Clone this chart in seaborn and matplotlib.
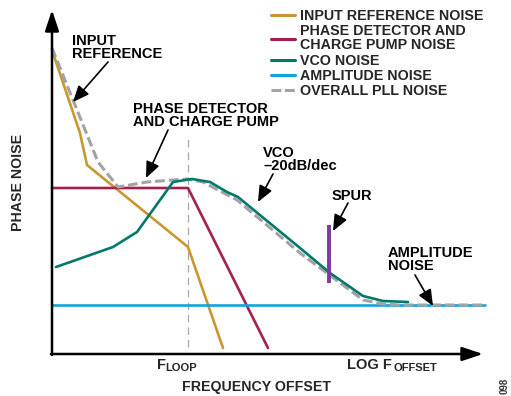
import matplotlib
matplotlib.use("Agg")
import matplotlib.pyplot as plt
import seaborn as sns
from matplotlib.lines import Line2D

sns.set_theme(style="white")
plt.rcParams["font.family"] = ["Liberation Sans", "DejaVu Sans"]
plt.rcParams["font.weight"] = "bold"

# Offset position (log scale, arbitrary units) and noise level (arbitrary units)
ref_x = [0, 28, 35, 136, 171]
ref_y = [304, 221, 189, 107, 6]

pd_x = [0, 136, 216]
pd_y = [166, 166, 6]

vco_x = [4, 61, 85, 121, 140, 158, 175, 186, 248, 278, 311, 331, 356]
vco_y = [87, 107, 122, 172, 175, 172, 162, 157, 106, 81, 58, 53, 52]

amp_x = [0, 433]
amp_y = [49, 49]

pll_x = [0, 21, 46, 66, 95, 121, 135, 151, 185, 248, 311, 331, 348, 433]
pll_y = [306, 254, 192, 167, 172, 174, 175, 172, 154, 101, 54, 50, 49, 49]

f_loop = 136
loop_span = [7, 216]

spur_x = 277
spur_span = [71, 129]

labels = ["INPUT REFERENCE NOISE", "PHASE DETECTOR AND\nCHARGE PUMP NOISE",
          "VCO NOISE", "AMPLITUDE NOISE", "OVERALL PLL NOISE"]
colors = ["#C9972F", "#A51E50", "#00796B", "#12A3DA", "#A3A3A3"]

fig = plt.figure(figsize=(5.11, 3.96), dpi=100)
ax = fig.add_axes([0, 0, 1, 1])
ax.set_xlim(-52, 459)
ax.set_ylim(-42, 354)
ax.axis("off")

lw = 1.9
# F_LOOP marker
ax.plot([f_loop, f_loop], loop_span, color="#A8A8A8", lw=0.9, dashes=(6, 4), zorder=1)

sns.lineplot(x=ref_x, y=ref_y, sort=False, color=colors[0], lw=lw, ax=ax, zorder=2)
sns.lineplot(x=pd_x, y=pd_y, sort=False, color=colors[1], lw=lw, ax=ax, zorder=2)
sns.lineplot(x=amp_x, y=amp_y, sort=False, color=colors[3], lw=lw, ax=ax, zorder=2)
sns.lineplot(x=pll_x, y=pll_y, sort=False, color=colors[4], lw=2.2, ax=ax, zorder=3)
ax.lines[-1].set_dashes((3.2, 1.3))
sns.lineplot(x=vco_x, y=vco_y, sort=False, color=colors[2], lw=lw, ax=ax, zorder=4)

# spur
ax.plot([spur_x, spur_x], spur_span, color="#7D3C98", lw=2.8, solid_capstyle="butt", zorder=5)

# legend
handles = [Line2D([], [], color=colors[0], lw=2.2),
           Line2D([], [], color=colors[1], lw=2.2),
           Line2D([], [], color=colors[2], lw=2.2),
           Line2D([], [], color=colors[3], lw=2.2),
           Line2D([], [], color=colors[4], lw=2.2, dashes=(3.2, 1.2))]
leg = ax.legend(handles, labels, loc="upper left", bbox_to_anchor=(271 / 511, 1 - 9 / 396),
                bbox_transform=fig.transFigure, frameon=False, borderpad=0, borderaxespad=0,
                handlelength=1.68, handletextpad=0.35, labelspacing=0.08,
                prop={"weight": "bold", "size": 10.3})
for t in leg.get_texts():
    t.set_linespacing(1.02)

# axes with arrow heads
arrow_axis = dict(arrowstyle="-|>,head_length=0.9,head_width=0.3", lw=1.8, color="black",
                  mutation_scale=14, shrinkA=0, shrinkB=0)
ax.annotate("", xy=(0, 344), xytext=(0, -1), arrowprops=arrow_axis)
ax.annotate("", xy=(431, 0), xytext=(-1, 0), arrowprops=arrow_axis)

fs = 10.5
arrow = dict(arrowstyle="-|>,head_length=0.7,head_width=0.3", lw=1.2, color="black",
             mutation_scale=14, shrinkA=0, shrinkB=0)
notes = [
    ("INPUT\nREFERENCE", (20, 320), (56, 292), (21, 252)),
    ("PHASE DETECTOR\nAND CHARGE PUMP", (81, 252), (116, 224), (94, 176)),
    ("VCO\n\u201320dB/dec", (211, 208), (221, 180), (206, 152)),
    ("SPUR", (280, 165), (296, 151), (281, 123)),
    ("AMPLITUDE\nNOISE", (336, 108), (363, 79), (381, 48)),
]
for text, pos, start, end in notes:
    ax.text(pos[0], pos[1], text, fontsize=fs, fontweight="bold", ha="left", va="top",
            linespacing=0.95, color="black")
    ax.annotate("", xy=end, xytext=start, arrowprops=arrow)

# axis labels
ax.text(105, -4, "F", fontsize=fs, fontweight="bold", ha="left", va="top")
ax.text(113.5, -9, "LOOP", fontsize=8, fontweight="bold", ha="left", va="top")
ax.text(295, -4, "LOG F", fontsize=fs, fontweight="bold", ha="left", va="top")
ax.text(342, -9, "OFFSET", fontsize=8, fontweight="bold", ha="left", va="top")
ax.text(204, -33, "FREQUENCY OFFSET", fontsize=10.2, fontweight="bold", ha="center", va="center")
ax.text(-34, 172, "PHASE NOISE", fontsize=10.2, fontweight="bold", ha="center", va="center",
        rotation=90)
ax.text(453, -32, "098", fontsize=7, ha="center", va="center", rotation=90, color="#333333")

fig.savefig("out.png", dpi=100)
